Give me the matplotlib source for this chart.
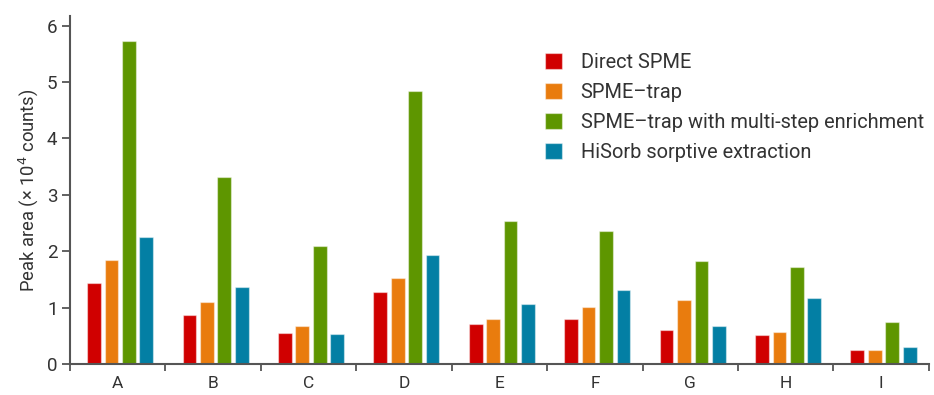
import numpy as np
import matplotlib
matplotlib.use('Agg')
import matplotlib.pyplot as plt

plt.rcParams['font.family'] = ['Roboto', 'DejaVu Sans']

categories = ['A', 'B', 'C', 'D', 'E', 'F', 'G', 'H', 'I']
series_names = ['Direct SPME', 'SPME\u2013trap',
                'SPME\u2013trap with multi-step enrichment',
                'HiSorb sorptive extraction']
direct_spme = [1.43, 0.87, 0.55, 1.27, 0.71, 0.79, 0.60, 0.51, 0.24]
spme_trap = [1.85, 1.10, 0.67, 1.52, 0.79, 1.01, 1.14, 0.57, 0.24]
spme_trap_multi = [5.73, 3.31, 2.10, 4.84, 2.54, 2.36, 1.82, 1.72, 0.75]
hisorb = [2.26, 1.36, 0.54, 1.94, 1.07, 1.31, 0.67, 1.17, 0.31]
colors = ['#d00000', '#e97c0e', '#5e9600', '#037fa4']

TEXT = '#333333'
SPINE = '#555555'

fig = plt.figure(figsize=(9.34, 3.95), dpi=100)
ax = fig.add_axes([0.075, 0.0785, 0.9195, 0.881])

x = np.arange(len(categories))
width = 0.144
step = 0.183
for j, (vals, name, c) in enumerate(zip(
        [direct_spme, spme_trap, spme_trap_multi, hisorb], series_names, colors)):
    ax.bar(x + (j - 1.5) * step + 0.025, vals, width, color=c, label=name,
           edgecolor=(1, 1, 1, 0.45), linewidth=0.9, zorder=2)

ax.set_xlim(-0.5, len(categories) - 0.5)
ax.set_ylim(0, 6.17)
ax.set_yticks(range(7))

# boundary ticks between groups, labels sit in the middle of each group
ax.set_xticks(np.arange(-0.5, len(categories), 1.0))
ax.set_xticklabels([])
ax.set_xticks(x, minor=True)
ax.set_xticklabels(categories, minor=True)
ax.tick_params(axis='x', which='major', length=5, width=1.3, color=SPINE)
ax.tick_params(axis='x', which='minor', length=0, pad=9,
               labelsize=12.5, labelcolor=TEXT)
ax.tick_params(axis='y', length=6, width=1.3, color=SPINE,
               labelsize=13.5, labelcolor=TEXT, pad=3)

for side in ['top', 'right']:
    ax.spines[side].set_visible(False)
for side in ['left', 'bottom']:
    ax.spines[side].set_color(SPINE)
    ax.spines[side].set_linewidth(1.5)

ax.set_ylabel('Peak area (\u00d7 10$^4$ counts)', fontsize=13.2, color=TEXT,
              labelpad=5)

leg = ax.legend(loc='upper left', bbox_to_anchor=(0.583, 0.866),
                bbox_transform=fig.transFigure, frameon=False,
                fontsize=14.4, handlelength=0.85, handleheight=0.85,
                handletextpad=0.95, labelspacing=0.55, borderpad=0,
                borderaxespad=0)
for t in leg.get_texts():
    t.set_color(TEXT)

fig.savefig('out.png', dpi=100)
